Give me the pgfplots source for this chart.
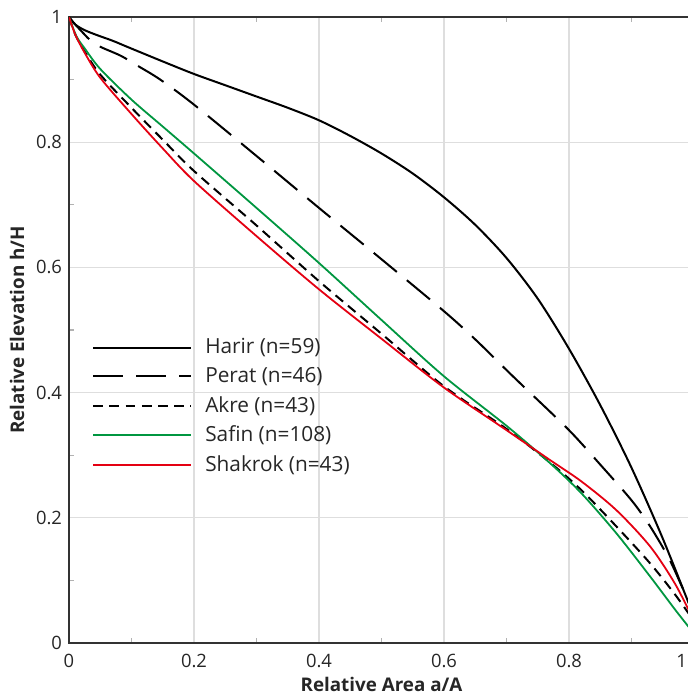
\documentclass[border=0pt]{standalone}
\usepackage{pgfplots}
\pgfplotsset{compat=1.18}
\usepackage{fontspec}
\setmainfont{Open Sans}
\definecolor{safingreen}{RGB}{0,150,64}
\definecolor{shakred}{RGB}{228,0,18}
\newcommand{\lastlabel}{\makebox[0pt][r]{1\kern3.6pt}}
\begin{document}
\begin{tikzpicture}
\begin{axis}[
  scale only axis, width=312.5pt, height=313pt,
  xmin=0, xmax=1, ymin=0, ymax=1,
  xtick={0,0.2,0.4,0.6,0.8,1}, xticklabels={0,0.2,0.4,0.6,0.8,\lastlabel},
  ytick={0,0.2,0.4,0.6,0.8,1}, yticklabels={0,0.2,0.4,0.6,0.8,1},
  minor xtick={0.1,0.3,0.5,0.7,0.9}, minor ytick={0.1,0.3,0.5,0.7,0.9},
  grid=major, major grid style={draw=black!13, line width=0.6pt},
  major tick length=0pt, minor tick length=2.5pt, tick align=inside,
  minor tick style={draw=black!30, line width=0.6pt},
  axis line style={draw=black!80, line width=1pt},
  ticklabel style={font=\fontsize{9.2}{11}\selectfont, text=black!85},
  xticklabel style={anchor=base, yshift=-12.2pt},
  yticklabel style={anchor=east, inner sep=0pt, xshift=-3.3pt},
  xlabel={Relative Area a/A}, ylabel={Relative Elevation h/H},
  label style={font=\fontsize{9.4}{11}\selectfont\bfseries, text=black!85},
  xlabel style={anchor=base, at={(axis description cs:0.5,-0.0767)}},
  ylabel style={anchor=center, at={(axis description cs:-0.083,0.5)}},
  legend cell align=left,
  legend style={draw=none, fill=none, at={(axis cs:0.027,0.500)}, anchor=north west,
    font=\fontsize{10.4}{12}\selectfont, text=black!85, row sep=1.4pt, column sep=4.5pt},
  legend image code/.code={\draw[#1] (0pt,0pt) -- (49pt,0pt);},
]
\addplot[black, line width=1pt, smooth] coordinates {
(0,1) (0.01,0.988) (0.025,0.979) (0.045,0.971) (0.07,0.962) (0.094,0.952) (0.15,0.929) (0.2,0.909) (0.25,0.891) (0.3,0.873) (0.35,0.855) (0.4,0.835) (0.45,0.81) (0.5,0.782) (0.55,0.75) (0.6,0.712) (0.65,0.668) (0.7,0.615) (0.75,0.55) (0.8,0.47) (0.85,0.38) (0.9,0.28) (0.95,0.167) (1,0.042)};
\addlegendentry{Harir (n=59)}
\addplot[black, line width=1pt, smooth, dash pattern=on 15pt off 6.5pt] coordinates {
(0,1) (0.01,0.988) (0.024,0.973) (0.035,0.962) (0.051,0.952) (0.083,0.938) (0.11,0.922) (0.146,0.9) (0.2,0.86) (0.3,0.778) (0.4,0.695) (0.5,0.613) (0.6,0.53) (0.65,0.485) (0.7,0.436) (0.727,0.41) (0.8,0.34) (0.85,0.285) (0.9,0.228) (0.93,0.186) (0.96,0.135) (0.983,0.085) (1,0.05)};
\addlegendentry{Perat (n=46)}
\addplot[black, line width=1pt, smooth, dash pattern=on 4.9pt off 3.2pt] coordinates {
(0,1) (0.01,0.972) (0.025,0.945) (0.05,0.908) (0.1,0.855) (0.15,0.804) (0.2,0.754) (0.3,0.667) (0.4,0.578) (0.5,0.494) (0.6,0.41) (0.7,0.342) (0.77,0.288) (0.82,0.244) (0.876,0.186) (0.93,0.127) (0.97,0.077) (1,0.035)};
\addlegendentry{Akre (n=43)}
\addplot[draw=safingreen, line width=0.9pt, smooth] coordinates {
(0,1) (0.012,0.969) (0.025,0.95) (0.05,0.917) (0.1,0.868) (0.15,0.825) (0.2,0.782) (0.3,0.695) (0.4,0.607) (0.5,0.516) (0.6,0.426) (0.7,0.347) (0.77,0.287) (0.82,0.239) (0.876,0.175) (0.93,0.106) (0.97,0.053) (1,0.015)};
\addlegendentry{Safin (n=108)}
\addplot[draw=shakred, line width=0.9pt, smooth] coordinates {
(0,1) (0.01,0.972) (0.025,0.943) (0.05,0.903) (0.1,0.845) (0.15,0.79) (0.2,0.738) (0.3,0.65) (0.4,0.565) (0.5,0.486) (0.6,0.408) (0.7,0.34) (0.77,0.292) (0.82,0.258) (0.876,0.212) (0.93,0.154) (0.97,0.094) (1,0.035)};
\addlegendentry{Shakrok (n=43)}
\end{axis}
\pgfresetboundingbox
\path (-34.5pt,-27pt) rectangle (309.5pt,321.5pt);
\end{tikzpicture}
\end{document}
